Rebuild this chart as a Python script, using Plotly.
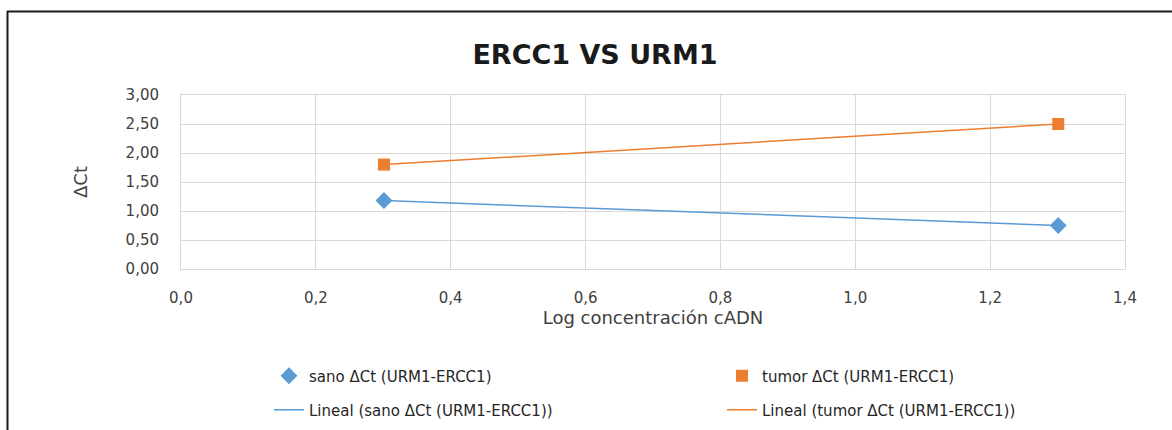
import numpy as np
import plotly.graph_objects as go

# Data
log_conc = [0.301, 1.301]
sano_dct = [1.18, 0.75]
tumor_dct = [1.80, 2.50]
x_ticks = [0.0, 0.2, 0.4, 0.6, 0.8, 1.0, 1.2, 1.4]
y_ticks = [0.0, 0.5, 1.0, 1.5, 2.0, 2.5, 3.0]

title_text = "ERCC1 VS URM1"
x_title = "Log concentración cADN"
y_title = "ΔCt"
name_sano = "sano ΔCt (URM1-ERCC1)"
name_tumor = "tumor ΔCt (URM1-ERCC1)"

BLUE = "#5B9BD5"
ORANGE = "#ED7D31"
FONT = "DejaVu Sans"

xs = np.array(log_conc)
fit_s = np.polyfit(xs, np.array(sano_dct), 1)
fit_t = np.polyfit(xs, np.array(tumor_dct), 1)

fig = go.Figure()
fig.add_trace(go.Scatter(x=log_conc, y=sano_dct, mode="markers", name=name_sano,
                         marker=dict(symbol="diamond", size=13, color=BLUE), legend="legend"))
fig.add_trace(go.Scatter(x=log_conc, y=tumor_dct, mode="markers", name=name_tumor,
                         marker=dict(symbol="square", size=12, color=ORANGE), legend="legend2"))
fig.add_trace(go.Scatter(x=log_conc, y=list(np.polyval(fit_s, xs)), mode="lines",
                         name="Lineal (" + name_sano + ")",
                         line=dict(color=BLUE, width=1.5), legend="legend3"))
fig.add_trace(go.Scatter(x=log_conc, y=list(np.polyval(fit_t, xs)), mode="lines",
                         name="Lineal (" + name_tumor + ")",
                         line=dict(color=ORANGE, width=1.5), legend="legend4"))

L, R, T, B = 181, 47, 95, 161
W, H = 1172, 430
pw, ph = W - L - R, H - T - B

def px(xp):
    return (xp - L) / pw

def py(yp):
    return (H - B - yp) / ph

grid = "#D9D9D9"
leg_font = dict(size=15, color="#262626")

def leg(xp, yp):
    return dict(orientation="h", x=px(xp), xanchor="left", y=py(yp), yanchor="middle",
                font=leg_font, bgcolor="rgba(0,0,0,0)")

fig.update_layout(
    width=W, height=H,
    margin=dict(l=L, r=R, t=T, b=B, autoexpand=False),
    paper_bgcolor="white", plot_bgcolor="white",
    separators=",.",
    font=dict(family=FONT, color="#404040", size=15),
    title=dict(text=title_text, x=595 / W, xanchor="center", y=1 - 55 / H, yanchor="middle",
               font=dict(family=FONT, size=27, color="#1a1a1a", weight="bold")),
    xaxis=dict(range=[0, 1.4], tickvals=x_ticks, tickformat=".1f", showgrid=True, gridcolor=grid,
               gridwidth=1, zeroline=False, showline=True, mirror=True, linecolor=grid,
               ticks="outside", ticklen=15, tickcolor="rgba(0,0,0,0)",
               tickfont=dict(size=15, color="#404040"),
               title=dict(text=x_title, font=dict(size=18, color="#404040"), standoff=2)),
    yaxis=dict(range=[0, 3], tickvals=y_ticks, tickformat=".2f", showgrid=True, gridcolor=grid,
               gridwidth=1, zeroline=False, showline=True, mirror=True, linecolor=grid,
               ticks="outside", ticklen=18, tickcolor="rgba(0,0,0,0)",
               tickfont=dict(size=15, color="#404040"),
               title=dict(text=y_title, font=dict(size=18, color="#404040"), standoff=33)),
    legend=leg(269, 376),
    legend2=leg(722, 376),
    legend3=leg(269, 410),
    legend4=leg(722, 410),
    showlegend=True,
)

# outer chart border (top and left only visible)
fig.add_shape(type="line", xref="paper", yref="paper", x0=px(7), x1=px(1175), y0=py(11.5), y1=py(11.5),
              line=dict(color="#1a1a1a", width=2))
fig.add_shape(type="line", xref="paper", yref="paper", x0=px(7.5), x1=px(7.5), y0=py(11), y1=py(440),
              line=dict(color="#1a1a1a", width=2))

fig.write_html("out.html")
